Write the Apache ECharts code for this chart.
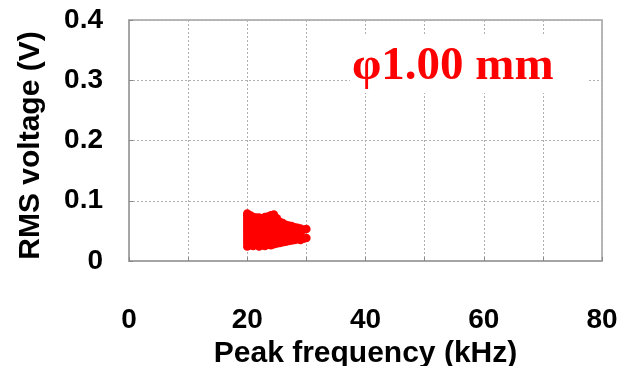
<!DOCTYPE html>
<html><head><meta charset="utf-8">
<script src="https://cdn.jsdelivr.net/npm/echarts@6/dist/echarts.min.js"></script>
<style>html,body{margin:0;padding:0;background:#fff}#c{width:629px;height:366px}</style>
</head><body><div id="c"></div>
<script>
// Peak frequency (kHz) and RMS voltage (V) of each detected event
var freqValues = [
  20,20,20,20,20,20,20,20,20,20,20,20,
  20.5,20.5,20.5,20.5,20.5,20.5,20.5,20.5,
  21,21,21,21,21,21,21,21,
  21.5,21.5,21.5,21.5,21.5,21.5,21.5,
  22,22,22,22,22,22,22,22,
  22.5,22.5,22.5,22.5,22.5,22.5,22.5,
  23,23,23,23,23,23,23,
  23.5,23.5,23.5,23.5,23.5,23.5,23.5,
  24,24,24,24,24,24,24,
  24.5,24.5,24.5,24.5,24.5,24.5,24.5,
  25,25,25,25,25,25,
  25.5,25.5,25.5,25.5,25.5,
  26,26,26,26,26,
  26.5,26.5,26.5,26.5,
  27,27,27,27,
  27.5,27.5,27.5,27.5,
  28,28,28,
  28.5,28.5,28.5,
  29,29,29,
  29.5,29.5,
  30,30
];
var rmsValues = [
  0.024,0.030,0.035,0.040,0.045,0.050,0.055,0.060,0.065,0.070,0.075,0.079,
  0.026,0.033,0.041,0.048,0.056,0.063,0.071,0.076,
  0.025,0.032,0.040,0.047,0.055,0.062,0.069,0.073,
  0.027,0.035,0.043,0.051,0.059,0.066,0.072,
  0.024,0.031,0.039,0.046,0.054,0.061,0.068,0.072,
  0.026,0.034,0.042,0.050,0.058,0.065,0.071,
  0.025,0.033,0.041,0.049,0.057,0.064,0.073,
  0.027,0.036,0.044,0.052,0.060,0.067,0.074,
  0.026,0.034,0.043,0.051,0.059,0.068,0.076,
  0.028,0.037,0.045,0.054,0.062,0.071,0.077,
  0.029,0.038,0.046,0.055,0.063,0.071,
  0.030,0.039,0.048,0.056,0.065,
  0.031,0.040,0.049,0.057,0.063,
  0.032,0.041,0.050,0.060,
  0.033,0.042,0.051,0.059,
  0.034,0.043,0.052,0.058,
  0.035,0.044,0.056,
  0.036,0.046,0.055,
  0.035,0.041,0.054,
  0.037,0.052,
  0.038,0.053
];
var xTickLabels = ['0','20','40','60','80'];
var yTickLabels = ['0','0.1','0.2','0.3','0.4'];
var annotation = 'φ1.00 mm';

var points = freqValues.map(function (f, i) { return [f, rmsValues[i]]; });
var font = 'Liberation Sans, Arial, sans-serif';
var chart = echarts.init(document.getElementById('c'), null, {renderer: 'canvas'});
chart.setOption({
  animation: false,
  backgroundColor: '#fff',
  grid: {left: 129, right: 27, top: 20, bottom: 105, show: true, borderColor: '#a0a0a0', borderWidth: 1.5,
    containLabel: false, outerBoundsMode: 'none'},
  xAxis: {
    type: 'value', min: 0, max: 80, interval: 10,
    name: 'Peak frequency (kHz)', nameLocation: 'middle', nameGap: 76,
    nameTextStyle: {fontFamily: font, fontWeight: 'bold', fontSize: 30, color: '#000'},
    axisLine: {show: true, lineStyle: {color: '#a0a0a0', width: 1.5}},
    axisTick: {show: true, inside: true, length: 4, lineStyle: {color: '#888'}},
    axisLabel: {margin: 45, fontFamily: font, fontWeight: 'bold', fontSize: 28, color: '#000',
      formatter: function (v) { var s = String(v); return xTickLabels.indexOf(s) >= 0 ? s : ''; }},
    splitLine: {show: true, lineStyle: {color: '#b0b0b0', type: [2, 2], width: 1}}
  },
  yAxis: {
    type: 'value', min: 0, max: 0.4, interval: 0.1,
    name: 'RMS voltage (V)', nameLocation: 'middle', nameGap: 83,
    nameTextStyle: {fontFamily: font, fontWeight: 'bold', fontSize: 30, color: '#000', padding: [0, 10, 0, 0]},
    axisLine: {show: true, lineStyle: {color: '#a0a0a0', width: 1.5}},
    axisTick: {show: true, inside: true, length: 4, lineStyle: {color: '#888'}},
    axisLabel: {margin: 26, fontFamily: font, fontWeight: 'bold', fontSize: 28, color: '#000', padding: [6, 0, 0, 0],
      formatter: function (v) { var s = String(Math.round(v * 10) / 10); return yTickLabels.indexOf(s) >= 0 ? s : ''; }},
    splitLine: {show: true, lineStyle: {color: '#b0b0b0', type: [2, 2], width: 1}}
  },
  graphic: [
    {type: 'rect', shape: {x: 350, y: 35, width: 238, height: 58}, style: {fill: '#fff'}, z: 50},
    {type: 'text', x: 352, y: 67, z: 51, style: {text: annotation, fill: '#ff0000',
      font: 'bold 47px "Liberation Serif", "Times New Roman", serif', textVerticalAlign: 'middle'}}
  ],
  series: [{
    type: 'scatter', data: points, symbol: 'circle', symbolSize: 8.5,
    itemStyle: {color: '#ff0000', opacity: 1}, z: 60
  }]
});
</script></body></html>
